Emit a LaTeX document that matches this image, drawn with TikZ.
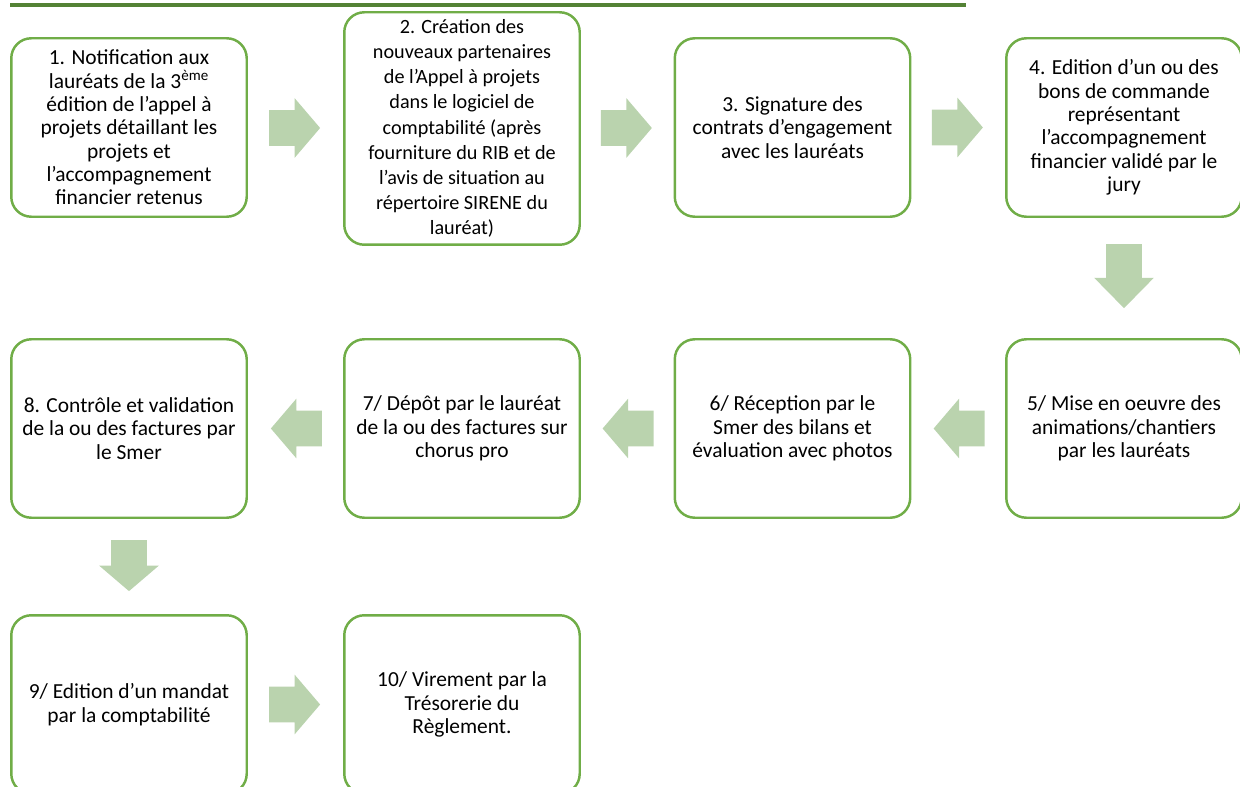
\documentclass[tikz,border=0pt]{standalone}
\usepackage{fontspec}
\setmainfont{Carlito}
\usepackage{tikz}
\usetikzlibrary{shapes,arrows,positioning,calc}
\definecolor{boxgreen}{RGB}{112,173,71}
\definecolor{arrowgreen}{RGB}{186,211,174}
\definecolor{rulegreen}{RGB}{84,130,53}
\tikzset{
  stepbox/.style={draw=boxgreen, line width=1.4pt, rounded corners=0.4cm, fill=white,
    minimum width=4.71cm, minimum height=3.57cm, align=center, inner sep=2pt,
    font=\fontsize{12.2}{13.3}\selectfont},
  flow/.style={single arrow, fill=arrowgreen, draw=none, inner xsep=0pt, inner ysep=0.35cm,
    minimum width=1.18cm, minimum height=1.02cm,
    single arrow head extend=0.24cm, single arrow tip angle=99, xshift=-0.17cm}
}

\begin{document}
\begin{tikzpicture}[x=0.02cm, y=-0.02cm]
    \clip (0,0) rectangle (1240,787);

    % Title rule
    \draw [rulegreen, line width=2pt] (10,5) -- (966,5);

    % First row
    \node [stepbox] (s1) at (129,127.5) {1. Notification aux\\lauréats de la 3\textsuperscript{ème}\\édition de l’appel à\\projets détaillant les\\projets et\\l’accompagnement\\financier retenus};
    \node [stepbox, minimum height=4.65cm, font=\fontsize{11.5}{14.3}\selectfont] (s2) at (462,128.5) {2. Création des\\nouveaux partenaires\\de l’Appel à projets\\dans le logiciel de\\comptabilité (après\\fourniture du RIB et de\\l’avis de situation au\\répertoire SIRENE du\\lauréat)};
    \node [stepbox] (s3) at (792.5,127.5) {3. Signature des\\contrats d’engagement\\avec les lauréats};
    \node [stepbox] (s4) at (1124,127.5) {4. Edition d’un ou des\\bons de commande\\représentant\\l’accompagnement\\financier validé par le\\jury};

    % Second row
    \node [stepbox] (s5) at (1124,428.5) {5/ Mise en oeuvre des\\animations/chantiers\\par les lauréats};
    \node [stepbox] (s6) at (792.5,428.5) {6/ Réception par le\\Smer des bilans et\\évaluation avec photos};
    \node [stepbox] (s7) at (462,428.5) {7/ Dépôt par le lauréat\\de la ou des factures sur\\chorus pro};
    \node [stepbox] (s8) at (129,428.5) {8. Contrôle et validation\\de la ou des factures par\\le Smer};

    % Third row
    \node [stepbox] (s9) at (129,704.5) {9/ Edition d’un mandat\\par la comptabilité};
    \node [stepbox] (s10) at (462,704.5) {10/ Virement par la\\Trésorerie du\\Règlement.};

    % Arrows
    \node [flow] (a12) at ($(s1.east)!0.5!(s2.west)$) {};
    \node [flow] (a23) at ($(s2.east)!0.5!(s3.west)$) {};
    \node [flow] (a34) at ($(s3.east)!0.5!(s4.west)$) {};
    \node [rotate=-90, flow, minimum height=1.28cm, single arrow tip angle=89] (a45) at ($(s4.south)!0.48!(s5.north)$) {};
    \node [rotate=180, flow] (a56) at ($(s5.west)!0.5!(s6.east)$) {};
    \node [rotate=180, flow] (a67) at ($(s6.west)!0.5!(s7.east)$) {};
    \node [rotate=180, flow] (a78) at ($(s7.west)!0.5!(s8.east)$) {};
    \node [rotate=-90, flow] (a89) at ($(s8.south)!0.5!(s9.north)$) {};
    \node [flow] (a910) at ($(s9.east)!0.5!(s10.west)$) {};

\end{tikzpicture}
\end{document}
